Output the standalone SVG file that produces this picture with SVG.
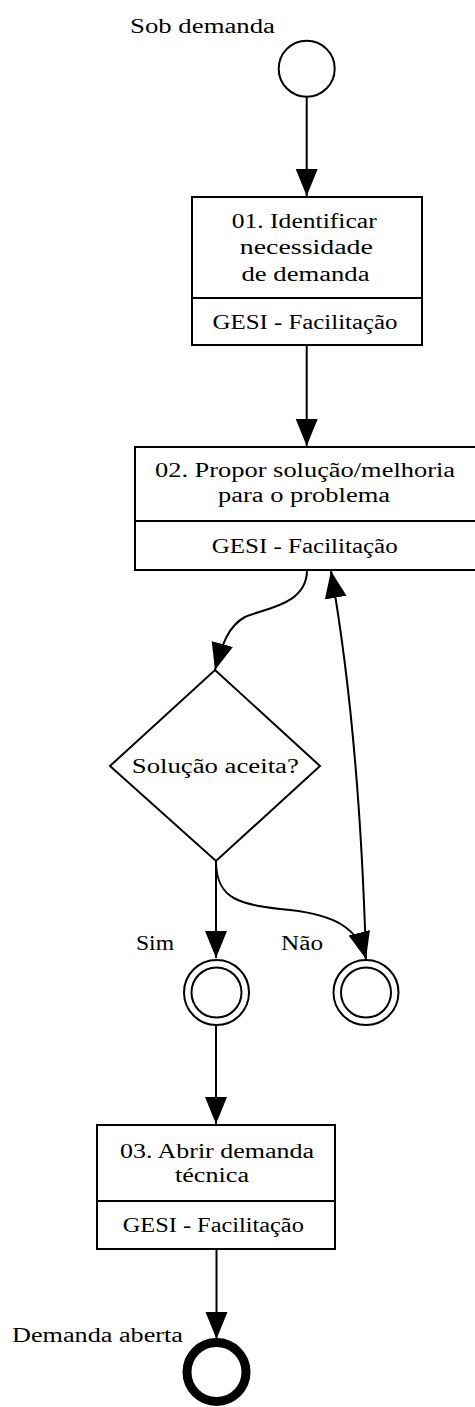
<svg xmlns="http://www.w3.org/2000/svg" width="475" height="1407" viewBox="0 0 475 1407">
<style>
.bg{fill:#fff}
.box{fill:#fff;stroke:#000;stroke-width:2}
.div{stroke:#000;stroke-width:2;fill:none}
.ev{fill:#fff;stroke:#000;stroke-width:2}
.end{fill:#fff;stroke:#000;stroke-width:9}
.edge{fill:none;stroke:#000;stroke-width:2}
text{font-family:"Liberation Serif","Times New Roman",serif;font-size:20px;fill:#000}
.c{text-anchor:middle}
</style>
<defs>
<marker id="arr" markerUnits="userSpaceOnUse" markerWidth="28" markerHeight="24" viewBox="0 0 28 24" refX="27" refY="11" orient="auto">
<path d="M0,0 L27,11 L0,22 z" fill="#000"/>
</marker>
</defs>
<rect class="bg" x="0" y="0" width="475" height="1407"/>

<g id="connectors">
<path class="edge" d="M306.7,97 L306.7,196" marker-end="url(#arr)"/>
<path class="edge" d="M306.7,345 L306.7,446" marker-end="url(#arr)"/>
<path class="edge" d="M307,570 C307,605 265,608 245,617 C228,626 222,645 215,670" marker-end="url(#arr)"/>
<path class="edge" d="M216,861 L216,958" marker-end="url(#arr)"/>
<path class="edge" d="M216,861 C216,900 240,905 290,910 C335,915 358,928 366,959" marker-end="url(#arr)"/>
<path class="edge" d="M366,959 C362,820 352,690 331,571" marker-end="url(#arr)"/>
<path class="edge" d="M216,1025 L216,1124" marker-end="url(#arr)"/>
<path class="edge" d="M216.5,1249 L216.5,1339" marker-end="url(#arr)"/>
</g>

<g id="start">
<circle class="ev" cx="306.7" cy="68.7" r="28"/>
<text class="c" x="202.5" y="33" textLength="145" lengthAdjust="spacingAndGlyphs">Sob demanda</text>
</g>

<g id="task1">
<rect class="box" x="192" y="197" width="230" height="148"/>
<line class="div" x1="192" y1="298" x2="422" y2="298"/>
<text class="c" x="304.2" y="228" textLength="145" lengthAdjust="spacingAndGlyphs">01. Identificar</text>
<text class="c" x="306.3" y="254" textLength="133" lengthAdjust="spacingAndGlyphs">necessidade</text>
<text class="c" x="305.5" y="281" textLength="128" lengthAdjust="spacingAndGlyphs">de demanda</text>
<text class="c" x="305" y="329" textLength="185" lengthAdjust="spacingAndGlyphs">GESI - Facilitação</text>
</g>

<g id="task2">
<rect class="box" x="135" y="447" width="344" height="123"/>
<line class="div" x1="135" y1="521" x2="479" y2="521"/>
<text class="c" x="305" y="477" textLength="300" lengthAdjust="spacingAndGlyphs">02. Propor solução/melhoria</text>
<text class="c" x="304" y="502" textLength="172" lengthAdjust="spacingAndGlyphs">para o problema</text>
<text class="c" x="304.7" y="553" textLength="186" lengthAdjust="spacingAndGlyphs">GESI - Facilitação</text>
</g>

<g id="gateway">
<polygon class="box" points="215,670 320,766 216,861 110,766"/>
<text class="c" x="215.3" y="773" textLength="167" lengthAdjust="spacingAndGlyphs">Solução aceita?</text>
</g>

<g id="end-sim">
<circle class="ev" cx="216.5" cy="992.5" r="32.5"/>
<circle class="ev" cx="216.5" cy="992.5" r="25"/>
<text x="136" y="950" textLength="38" lengthAdjust="spacingAndGlyphs">Sim</text>
</g>

<g id="end-nao">
<circle class="ev" cx="366" cy="992.5" r="32.5"/>
<circle class="ev" cx="366" cy="992.5" r="25"/>
<text x="281" y="950" textLength="42" lengthAdjust="spacingAndGlyphs">Não</text>
</g>

<g id="task3">
<rect class="box" x="97" y="1125" width="238" height="124"/>
<line class="div" x1="97" y1="1201" x2="335" y2="1201"/>
<text class="c" x="217" y="1158" textLength="194" lengthAdjust="spacingAndGlyphs">03. Abrir demanda</text>
<text class="c" x="212" y="1182" textLength="74" lengthAdjust="spacingAndGlyphs">técnica</text>
<text class="c" x="213.3" y="1232" textLength="181" lengthAdjust="spacingAndGlyphs">GESI - Facilitação</text>
</g>

<g id="end">
<circle class="end" cx="216.5" cy="1372" r="29.5"/>
<text x="12" y="1342" textLength="171" lengthAdjust="spacingAndGlyphs">Demanda aberta</text>
</g>
</svg>
